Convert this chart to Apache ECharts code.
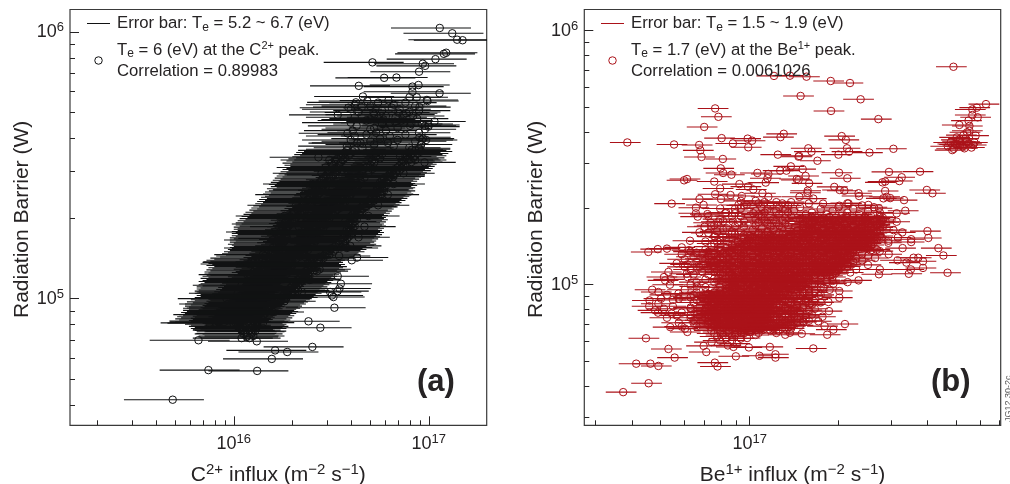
<!DOCTYPE html>
<html><head><meta charset="utf-8">
<script src="https://cdn.jsdelivr.net/npm/echarts@6/dist/echarts.min.js"></script>
<style>html,body{margin:0;padding:0;background:#fff}#c{width:1010px;height:484px}</style>
</head><body><div id="c"></div>
<script>
// All values are decades: influx = 10^(ref + x), barrier = 1e5 * 10^y.
const cInfluxRef = 16, beInfluxRef = 17;
// Asymmetric error bar half widths, in decades
const cLowDex = 0.25, cHighDex = 0.16, beLowDex = 0.059, beHighDex = 0.045;

// Panel (a): individually readable points [x, y]
const cLoose = [[1.056,1.015],[1.12,.995],[1.145,.971],[1.173,.969],[1.077,.918],[1.089,.922],[1.034,.898],[.969,.881],[.981,.873],[.711,.886],[.95,.851],[.771,.828],[.834,.829],[.641,.798],[.916,.795],[.947,.801],[.916,.776],[1.055,.77],[.662,.758],[.901,.755],[.938,.755],[.993,.741],[.626,.736],[.685,.741],[.793,.743],[.588,.716],[.656,.718],[.81,.716],[.952,.718],[.533,.689],[.716,.698],[.844,.698],[.884,.695],[.699,.672],[.768,.672],[.827,.664],[.964,.655],[.998,.651],[1.029,.664],[.904,.648],[.952,.605],[.986,.595],[.95,.564],[.978,.511],[.434,.53],[.862,.52],[.819,.458],[.75,.389],
[.533,.084],[.549,.056],[.542,.038],[.532,.028],[.494,.025],[.503,.012],[.511,.006],[.516,-.034],[.383,-.085],[.444,-.109],[.403,-.181],[.212,-.194],[.274,-.2],[.195,-.226],[-.13,-.268],[.12,-.271],[-.313,-.379],[-.181,-.156],[.118,-.16],[.067,-.144],[.109,-.122],[.041,-.115],[.05,-.119],[-.125,-.091],[-.079,-.088],[.118,-.088],[.605,.144],[.632,.154],[.426,.103],[.383,.073],[.349,.025],[.058,-.131]];
// Panel (a): bars sticking out of the edges of the mass [x, y]
const cEdge = [[.583,.62],[.633,.583],[.556,.483],[.522,.464],[.487,.439],[.453,.408],[.419,.37],[.368,.308],[.333,.27],[.273,.226],[.094,.138],[.111,.088],[.06,.025],[-.037,0],[.009,-.035],[-.008,-.053],[-.076,-.088],[.99,.745],[.998,.645],[.964,.595],[.913,.558],[.853,.533],[.819,.464],[.733,.408],[.674,.345],[.571,.289],[.571,.233],[.597,.198],
[.49,.52],[.45,.47],[.4,.43],[.36,.39],[.32,.35],[.26,.31],[.24,.28],[.21,.25],[.2,.22],[.2,.19],[.15,.165],[.08,.13],[.07,.09],[.04,.05],[.02,.02],[-.03,-.02],[-.06,-.06],[.93,.52],[.87,.47],[.82,.43],[.79,.39],[.74,.35],[.69,.31],[.67,.27],[.64,.23],[.58,.19],[.54,.16],[.44,.11],[.39,.07],[.33,.03],[.26,-.01],[.2,-.05],[.15,-.09]];
// Panel (a): densely packed rows [y, x, x]
const cRows = [[.735,.74,.88],[.727,.62,.82],[.722,.7,.93],[.71,.6,.85],[.705,.76,.95],[.7,.64,.9],[.69,.72,.87],[.685,.78,.92],[.68,.62,.83],[.675,.74,.94],[.668,.68,.86],[.66,.6,.8],[.655,.76,.91],[.648,.63,.98],[.64,.72,.84],[.635,.7,.98],[.63,.61,.78],[.622,.73,.95],[.615,.68,.88],[.61,.62,.8],[.6,.75,.97],[.595,.6,.84],[.59,.7,.93],[.584,.65,.79],[.578,.72,.96],[.572,.58,.82],[.566,.66,.9],
[.56,.62,.95],[.556,.58,.93],[.552,.61,.96],[.548,.57,.9],[.544,.6,.94],[.54,.56,.91],[.536,.59,.93],[.532,.55,.88],[.528,.57,.92],[.524,.53,.89],[.52,.56,.9],[.516,.52,.87],[.512,.55,.91],[.508,.5,.86],[.504,.54,.88],[.5,.51,.85],[.496,.54,.87],[.492,.47,.84],[.488,.52,.86],[.484,.5,.82],[.48,.53,.85],[.476,.49,.81],[.472,.52,.83],[.468,.48,.8],[.464,.51,.82],[.46,.47,.79],[.456,.5,.8],[.452,.46,.77],[.448,.49,.79],[.444,.45,.76],[.44,.48,.78],[.436,.44,.75],[.432,.47,.77],[.428,.43,.76],[.424,.46,.78],[.42,.44,.75],[.416,.47,.77],[.412,.42,.76],[.408,.45,.74],[.404,.43,.77],[.4,.41,.75],[.396,.44,.73],[.392,.4,.76],[.388,.43,.72],[.384,.41,.74],[.38,.39,.71],[.376,.42,.73],[.372,.38,.7],[.368,.41,.72],[.364,.37,.69],[.36,.4,.7],[.356,.36,.67],[.352,.39,.69],[.348,.35,.66],[.344,.38,.68],[.34,.34,.65],[.336,.37,.66],[.332,.33,.63],[.328,.35,.65],[.324,.31,.62],[.32,.34,.64],[.316,.3,.61],[.312,.33,.63],[.308,.29,.6],[.304,.32,.62],[.3,.28,.61],[.296,.31,.63],[.292,.27,.6],[.288,.3,.62],[.284,.26,.59],[.28,.29,.61],[.276,.26,.6],[.272,.28,.62],[.268,.25,.59],[.264,.27,.61],[.26,.25,.58],[.256,.27,.6],[.252,.24,.59],[.248,.26,.61],[.244,.24,.58],[.24,.27,.6],[.236,.24,.57],[.232,.26,.59],[.228,.23,.56],[.224,.25,.58],[.22,.23,.55],[.216,.26,.57],[.212,.23,.56],[.208,.25,.54],[.204,.22,.57],[.2,.24,.56],[.196,.25,.52],[.192,.23,.55],[.188,.24,.5],[.184,.22,.52],[.18,.23,.49],[.176,.2,.51],[.172,.22,.48],[.168,.19,.47],[.164,.21,.49],[.16,.16,.46],[.156,.18,.44],[.152,.13,.46],[.148,.15,.43],[.144,.11,.41],[.14,.13,.39],[.136,.09,.4],[.132,.12,.38],[.128,.14,.41],[.124,.11,.39],[.12,.15,.42],[.116,.12,.4],[.112,.14,.38],[.108,.11,.41],[.104,.13,.37],[.1,.1,.39],[.096,.12,.36],[.092,.1,.38],[.088,.13,.35],[.084,.09,.37],[.08,.12,.34],[.076,.08,.36],[.072,.11,.33],[.068,.09,.35],[.064,.07,.32],[.06,.1,.34],[.056,.08,.31],[.052,.07,.33],[.048,.09,.3],[.044,.06,.32],[.04,.08,.29],[.036,.06,.31],[.032,.07,.28],[.028,.05,.3],[.024,.07,.27],[.02,.05,.29],[.016,.08,.26],[.012,.06,.28],[.008,.08,.25],[.004,.05,.27],[0,.07,.24],[-.004,.03,.23],[-.008,.05,.21],[-.012,.01,.22],[-.016,.04,.2],[-.02,0,.21],[-.024,.03,.18],[-.028,0,.19],[-.032,.02,.17],[-.036,-.01,.18],[-.04,.02,.16],[-.044,-.01,.15],[-.048,.01,.17],[-.052,-.02,.14],[-.056,0,.16],[-.06,-.03,.13],[-.064,-.01,.15],[-.068,-.04,.12],[-.072,-.02,.14],[-.076,-.05,.11],[-.08,-.03,.13],[-.084,-.08,.1],[-.088,-.05,.12],[-.092,-.09,.09],[-.096,0,.11],[-.1,.03,.1],[-.104,.02,.12],[-.108,.05,.09],[-.112,.03,.11],[-.118,.04,.08],[-.124,.06,.1],[-.132,.05,.09],[-.14,.07,.1],[-.148,.04,.08]];
// Panel (a): centre of the solid band [y, x]
const cMidRows = [[.542,.76],[.534,.73],[.526,.75],[.518,.71],[.51,.72],[.502,.7],[.494,.68],[.486,.71],[.478,.66],[.47,.69],[.462,.65],[.454,.67],[.446,.62],[.442,.65],[.438,.6],[.434,.63],[.43,.61],[.426,.64],[.422,.59],[.418,.62],[.414,.6],[.41,.63],[.406,.58],[.402,.61],[.398,.59],[.394,.57],[.39,.6],[.386,.56],[.382,.59],[.378,.55],[.374,.58],[.37,.56],[.366,.54],[.362,.57],[.358,.53],[.354,.56],[.35,.54],[.346,.52],[.342,.55],[.338,.51],[.334,.53],[.33,.49],[.326,.52],[.322,.5],[.318,.47],[.314,.51],[.31,.48],[.306,.46],[.302,.49],[.298,.47],[.294,.44],[.29,.48],[.286,.46],[.282,.43],[.278,.47],[.274,.45],[.27,.42],[.266,.46],[.262,.44],[.258,.41],[.254,.45],[.25,.43],[.246,.4],[.242,.44],[.238,.42],[.234,.39],[.23,.43],[.226,.41],[.222,.38],[.218,.42],[.214,.4],[.21,.37],[.206,.41],[.202,.39],[.198,.36],[.194,.4],[.19,.37],[.186,.35],[.182,.38],[.178,.34],[.174,.36],[.17,.33],[.166,.35],[.162,.31],[.158,.34],[.154,.3],[.15,.32],[.146,.28],[.142,.3],[.138,.26],[.134,.29],[.13,.27],[.126,.3],[.122,.28],[.118,.26],[.114,.29],[.11,.25],[.106,.28],[.102,.26],[.098,.24],[.094,.27],[.09,.23],[.086,.25],[.082,.22],[.078,.24],[.074,.21],[.07,.23],[.066,.2],[.062,.22],[.058,.19],[.054,.21],[.05,.18],[.046,.2],[.042,.17],[.038,.19],[.034,.16],[.03,.18],[.026,.15],[.022,.17],[.018,.14],[.014,.16],[.01,.15],[.006,.13],[.002,.15],[-.002,.12],[-.006,.13],[-.01,.11],[-.014,.12],[-.018,.1],[-.022,.11],[-.026,.09],[-.03,.1],[-.034,.08],[-.038,.09],[-.042,.07],[-.046,.08],[-.05,.06],[-.054,.07],[-.058,.05],[-.062,.06],[-.066,.04],[-.07,.05],[-.074,.03],[-.078,.04],[-.082,.02],[-.086,.03],[-.09,.01]];

// Panel (b): individually readable points [x, y]
const beLoose = [[.689,.858],[.082,.822],[.136,.823],[.192,.819],[.274,.802],[.339,.794],[.172,.743],[.375,.73],[-.117,.694],[-.106,.661],[.275,.684],[.435,.652],[.799,.711],[.768,.697],[.753,.69],[.753,.668],[.771,.659],[.74,.646],[.709,.629],[.743,.625],[.743,.606],[.723,.589],[.764,.587],[.706,.57],[.734,.563],[.685,.53],[.726,.537],[.756,.55],[.711,.55],[.694,.554],[-.154,.621],[-.414,.56],[-.256,.552],[-.171,.55],[-.167,.529],[-.163,.503],[-.091,.495],[-.095,.577],[-.057,.556],[-.007,.575],[.008,.567],[-.005,.541],[.115,.594],[.104,.581],[.311,.585],[.325,.57],[.198,.537],[.329,.537],[.336,.524],[.3,.512],[.405,.52],[.486,.535],[.095,.512],[.165,.504],[.167,.507],[.209,.524],[.229,.488],[.139,.466],[.179,.455],[.124,.449],[.103,.449],[.026,.44],[-.098,.458],[-.09,.44],[-.062,.433],[.063,.436],[.06,.419],[.302,.441],[.33,.419],[.471,.444],[.576,.445],[.514,.423],[.506,.408],[.458,.406],[.449,.403],[.189,.428],[.159,.416],[.165,.412],[.054,.402],[-.222,.411],[-.212,.416],[-.12,.406],[-.035,.396],[-.006,.386],[.012,.375],[.201,.399],[.286,.385],[.304,.373],[.32,.37],[.599,.373],[.618,.36],[.458,.369],[.368,.36],[.37,.349],[.196,.37],[.195,.362],[.168,.346],[.215,.339],[-.117,.356],[-.065,.353],[-.1,.379],[-.027,.349],[.043,.36],[.063,.346],[-.17,.337],[-.264,.319],[-.156,.314],[-.182,.303],[-.097,.337],[.452,.34],[.463,.346],[.475,.341],[.522,.333],[.526,.291],[.497,.281],[.248,.319],[.303,.311],[.334,.32],[.401,.314],[.437,.301],[-.182,.281],[-.143,.278],[-.176,.268],[-.038,.314],[-.01,.314],[-.106,.248],[-.083,.281],[-.05,.281],[.012,.281],[.601,.211],[.516,.206],[.486,.215],[.604,.184],[.546,.179],[.501,.186],[.469,.173],[-.132,.244],[-.057,.248],[-.153,.228],[-.078,.222],[.446,.248],[.497,.248],[-.17,.206],[-.117,.189],[-.061,.199],[-.202,.173],[.407,.186],[.446,.186],
[-.343,.129],[-.311,.14],[-.28,.142],[-.23,.147],[-.205,.136],[.469,.165],[.517,.144],[.546,.168],[.638,.144],[.655,.115],[.554,.106],[.57,.106],[.586,.092],[.53,.087],[.586,.066],[.545,.06],[.538,.043],[.669,.047],[.437,.041],[.424,.105],[.409,.135],[-.247,.084],[-.275,.05],[-.213,.043],[-.286,.017],[-.267,.021],[-.179,-.007],[-.309,-.029],[-.241,-.035],[-.339,-.062],[-.309,-.075],[-.32,-.101],[-.264,-.114],[-.247,-.121],[-.269,-.167],[-.219,-.173],[-.211,-.186],[-.351,-.211],[-.275,-.253],[-.254,-.287],[-.384,-.311],[-.336,-.311],[-.309,-.32],[-.342,-.388],[-.428,-.423],[-.156,-.241],[-.147,-.265],[-.118,-.307],[-.109,-.322],[-.047,-.282],[.033,-.28],[.087,-.274],[.087,-.287],[.068,-.245],[-.003,-.247],[-.074,-.239],[-.055,-.245],[-.044,-.232],[-.009,-.21],[-.129,-.226],[.215,-.251],[.322,-.155],[.283,-.177],[.262,-.197],[.253,-.163],[.232,-.144],[.246,-.126],[.268,-.104],[.266,-.068],[.303,-.025],[.303,-.051],[.234,-.045],[.219,-.031],[.185,-.031],[.176,-.007],[.26,.01],[.283,.004],[.331,.01],[.368,.017],[.204,-.075],[.182,-.147],[.176,-.193],[.136,-.189],[.12,-.197],[.097,-.18],[.08,-.18],[.046,-.176],[.024,-.176],[.005,-.184],[-.018,-.18],[.103,-.144],[.144,-.163],
[.67,.545],[.7,.552],[.72,.545],[.74,.555],[.68,.56],[.71,.565],[.75,.54],[.73,.575],[.69,.535],[.76,.56],[.7,.58],[.735,.6]];
// Panel (b): densely packed rows [y, x, x, ...]
const beRows = [[.325,.05,.09,.14],[.32,.03,.11,.2,.33],[.312,-.02,.07,.13,.38],[.305,.04,.1,.17,.3,.42],[.298,-.05,.06,.12,.24,.35],[.29,.02,.09,.15,.28,.4],[.284,-.08,.05,.13,.21,.33,.44],[.277,.03,.1,.19,.26,.37],[.27,-.03,.07,.14,.22,.31,.41],[.264,.04,.12,.2,.27,.35,.45],[.258,-.1,.02,.08,.17,.24,.31,.39],[.252,.05,.11,.19,.26,.34,.42],[.246,-.04,.03,.09,.21,.29,.37,.46],[.24,.06,.12,.18,.25,.32,.4],[.234,-.12,.02,.1,.2,.27,.35,.43],[.228,-.02,.07,.13,.22,.3,.38,.45],[.222,.04,.11,.18,.25,.33,.41],[.216,-.09,.01,.08,.2,.28,.36,.44],[.21,-.03,.06,.14,.23,.3,.38],[.204,-.14,.03,.1,.18,.26,.34,.42],
[.198,-.05,.03,.09,.19,.27,.34,.41],[.192,0,.07,.14,.22,.3,.38,.44],[.186,-.08,.04,.11,.18,.25,.33,.4],[.18,-.02,.06,.13,.2,.28,.36,.43],[.174,-.1,.02,.09,.16,.24,.31,.39],[.168,-.04,.05,.12,.21,.29,.35,.42],[.162,-.12,.01,.08,.15,.23,.32,.4],[.156,-.06,.04,.11,.19,.26,.34,.41],[.15,-.13,-.01,.07,.14,.22,.3,.37],[.144,-.08,.03,.1,.18,.27,.33,.4],
[.138,-.15,-.04,.05,.12,.2,.28,.35,.43],[.132,-.1,0,.08,.16,.24,.31,.44],[.126,-.18,-.06,.03,.1,.19,.27,.34],[.12,-.12,-.02,.06,.14,.22,.3,.38,.47],[.114,-.14,-.05,.04,.11,.18,.26,.33,.4],[.108,-.1,.01,.09,.17,.25,.32],[.102,-.16,-.03,.06,.13,.21,.29,.36],[.096,-.11,-.01,.07,.15,.23,.3,.38,.5],[.09,-.13,-.04,.04,.12,.2,.28,.35],[.084,-.09,.02,.1,.17,.25,.31],[.078,-.14,-.03,.05,.13,.21,.29,.4],[.072,-.1,0,.08,.16,.24,.33],[.066,-.12,-.02,.06,.14,.22,.3],[.06,-.08,.03,.11,.19,.26,.36,.44],[.054,-.11,-.01,.07,.15,.23,.29],[.048,-.09,.02,.09,.17,.25,.34],[.042,-.1,-.02,.06,.14,.21,.28],
[.036,-.07,.01,.08,.15,.24],[.03,-.05,.03,.1,.19,.28],[.024,-.08,0,.07,.13,.22],[.018,-.06,.02,.09,.17,.26],[.012,-.07,-.01,.06,.12,.2],[.006,-.05,.03,.1,.16,.24],[0,-.08,0,.07,.14,.21],[-.006,-.06,.02,.09,.13,.19],[-.012,-.07,.01,.08,.15,.25],[-.018,-.05,.03,.1,.17],[-.024,-.08,0,.06,.12,.22],
[-.03,-.12,-.05,.02,.09,.18],[-.036,-.14,-.07,0,.06,.13],[-.042,-.11,-.04,.03,.1,.2],[-.048,-.13,-.06,.01,.07,.15],[-.054,-.12,-.05,.02,.09,.17],[-.06,-.14,-.07,0,.05,.12],[-.066,-.11,-.04,.03,.08,.19],[-.072,-.13,-.06,.01,.07,.14],[-.078,-.12,-.05,.02,.09,.21],[-.084,-.14,-.07,0,.05,.16],[-.09,-.11,-.04,.03,.08,.13],
[-.096,-.15,-.08,-.02,.04,.12],[-.102,-.13,-.06,0,.06,.17],[-.108,-.15,-.09,-.03,.03,.1],[-.114,-.12,-.06,.01,.07,.15],[-.12,-.14,-.08,-.02,.04,.19],[-.126,-.13,-.07,0,.06,.11],[-.132,-.15,-.09,-.03,.03,.16],[-.138,-.12,-.06,.01,.05,.13],[-.144,-.14,-.08,-.02,.04,.18],[-.15,-.13,-.07,0,.03,.09],[-.156,-.14,-.08,-.03,.02,.14],[-.162,-.12,-.06,0,.05],[-.168,-.13,-.07,-.02,.03,.11],
[-.174,-.11,-.06,-.01],[-.18,-.13,-.07,-.03,.04],[-.186,-.1,-.05,0],[-.192,-.12,-.07,-.02],[-.198,-.09,-.05,.02],[-.204,-.11,-.06],[-.212,-.08,-.03],[-.22,-.1,-.06],
[.03,-.29,-.21],[0,-.27,-.2],[-.02,-.33,-.22],[-.04,-.28,-.19],[-.055,-.3,-.24],[-.085,-.34,-.26],[-.095,-.29,-.2],[-.11,-.31,-.23],[-.13,-.28,-.2],[-.06,-.26,-.18],[.07,-.22,-.18],[-.15,-.24,-.19],[-.165,-.23,-.18]];
// Panel (b): points filling the solid red core
const beCoreRows = [[.267,.21,.27,.33,.39,.44],[.261,.19,.25,.31,.37,.43],[.255,.22,.28,.34,.4,.45],[.249,.18,.24,.3,.36,.42],[.243,.21,.27,.33,.39,.44],[.237,.2,.26,.32,.38,.43],[.231,.18,.23,.29,.35,.41],[.225,.21,.27,.33,.38,.44],[.219,.19,.25,.31,.37,.42],[.213,.16,.22,.28,.34,.4],[.207,.2,.26,.32,.37,.43],[.201,.18,.24,.3,.36,.41],
[.195,-.02,.04,.11,.17,.23,.29,.35,.41],[.189,.01,.08,.13,.2,.26,.32,.37,.42],[.183,-.03,.05,.1,.16,.24,.3,.36,.4],[.177,0,.07,.12,.19,.25,.33,.38,.41],[.171,-.04,.03,.11,.17,.22,.28,.34,.39],[.165,-.01,.06,.13,.18,.26,.31,.37,.4],[.159,-.05,.02,.09,.16,.23,.29,.35,.38],[.153,-.02,.05,.12,.2,.25,.31,.36,.39],[.147,-.06,.01,.08,.15,.21,.28,.34,.38],[.141,-.03,.04,.11,.17,.24,.29,.35,.37],
[.135,-.1,-.02,.07,.14,.22,.29,.33],[.129,-.07,.03,.1,.18,.25,.3,.35],[.123,-.09,-.03,.04,.12,.2,.27,.32],[.117,-.06,.01,.08,.16,.23,.29,.34],[.111,-.1,-.02,.06,.13,.2,.27,.31],[.105,-.07,.03,.11,.15,.22,.3,.33],[.099,-.09,-.03,.05,.12,.19,.26,.32],[.093,-.06,.01,.09,.14,.22,.28,.31],[.087,-.1,-.02,.06,.13,.18,.26,.3],[.081,-.07,.03,.08,.15,.22,.27,.33],[.075,-.09,-.03,.04,.11,.19,.25,.3],[.069,-.06,.01,.09,.13,.21,.27,.31],[.063,-.08,-.02,.05,.12,.18,.24,.28],[.057,-.05,.04,.08,.15,.22,.27,.3],[.051,-.07,-.01,.06,.11,.19,.23,.27],[.045,-.04,.02,.08,.14,.2,.24,.29],[.039,-.06,0,.05,.12,.17,.22,.26],
[.033,-.04,.02,.07,.12,.16],[.027,-.06,0,.05,.09,.14],[.021,-.03,.03,.08,.12,.17],[.015,-.05,.01,.05,.1,.15],[.009,-.03,.03,.07,.11,.15],[.003,-.06,0,.04,.09,.13],[-.003,-.03,.02,.06,.11,.16],[-.009,-.05,.01,.05,.1,.13],[-.015,-.03,.03,.07,.11,.14],[-.021,-.06,0,.04,.08,.12],[-.027,-.1,-.03,.02,.06,.1],
[-.033,-.12,-.08,-.03,.01,.05],[-.039,-.1,-.06,-.01,.04,.08],[-.045,-.13,-.08,-.03,.02,.06],[-.051,-.1,-.06,-.02,.03,.05],[-.057,-.12,-.08,-.03,.01,.06],[-.063,-.11,-.06,-.01,.03,.07],[-.069,-.13,-.08,-.03,.01,.05],[-.075,-.1,-.06,-.02,.03,.06],[-.081,-.12,-.07,-.03,.02,.04],[-.087,-.1,-.06,-.01,.03,.06],[-.093,-.13,-.08,-.03,.01,.05],
[-.099,-.12,-.07,-.03,.01,.03],[-.105,-.14,-.09,-.04,0,.04],[-.111,-.11,-.07,-.02,.02,.05],[-.117,-.14,-.09,-.04,0,.03],[-.123,-.12,-.07,-.03,.02,.05],[-.129,-.14,-.09,-.04,0,.03],[-.135,-.11,-.07,-.02,.02,.04],[-.141,-.13,-.09,-.04,0,.03],[-.147,-.11,-.06,-.02,.01,.04],[-.153,-.12,-.08,-.04,0,.02],[-.159,-.1,-.06,-.02,.01,.03],[-.165,-.12,-.08,-.04,0,.02],[-.171,-.09,-.05,-.02,.01]];
// Panel (b): the half-filled zone around the core
const beFillRows = [[-.03,.12,.2],[-.04,.09,.17,.24],[-.05,.1,.18],[-.058,.08,.14,.22],[-.065,.11,.19],[-.07,.13,.24],[-.08,.1,.16,.2],[-.088,.12,.18],[-.095,.07,.15,.22],[-.1,.09,.13,.2],[-.106,.06,.14],[-.112,.1,.17],[-.118,.07,.12,.21],[-.125,.08,.15],[-.13,.06,.11,.19],[-.137,.09,.14],[-.142,.07,.12,.2],[-.15,.05,.11,.16],[-.155,.08,.13],[-.16,.06,.1,.17],[-.166,.05,.09],[-.172,.03,.08,.14],[-.18,.02,.07],[-.19,-.03,.03,.09],[.035,.13,.2,.27],[.025,.16,.24],[.015,.12,.19,.28],[.005,.14,.22],[-.01,.17,.24],[-.02,.14,.2,.27],[.13,-.2,-.14],[.12,-.23,-.16],[.11,-.19,-.13],[.1,-.22,-.15],[.09,-.18,-.12],[.08,-.21,-.15],[.07,-.17,-.12],[.06,-.2,-.14],[.05,-.16,-.12],[.04,-.19,-.14],[.02,-.15,-.11],[.01,-.18,-.12],[-.01,-.15,-.1],[-.03,-.18,-.15],[-.05,-.2,-.16],[-.07,-.19,-.15],[-.09,-.2,-.17],[-.12,-.2,-.17],[-.14,-.19,-.16],[.33,-.03,.02],[.3,-.1,-.03],[.27,-.14,-.06],[.25,-.09,-.02],[.23,-.13,-.05],[.21,-.11,-.06],[.19,-.12,-.09],[.17,-.15,-.11]];

// Axis ranges and ticks
const cXRange = [1.447e15, 1.98e17], cYRange = [3.35e4, 1.214e6];
const beXRange = [2.757e16, 7.06e17], beYRange = [2.795e4, 1.212e6];
const cXMajor = [1e16, 1e17], beXMajor = [1e17], yMajor = [1e5, 1e6];
const cXMinor = [2e15,3e15,4e15,5e15,6e15,7e15,8e15,9e15,2e16,3e16,4e16,5e16,6e16,7e16,8e16,9e16];
const beXMinor = [3e16,4e16,5e16,6e16,7e16,8e16,9e16,2e17,3e17,4e17,5e17,6e17,7e17];
const cYMinor = [4e4,5e4,6e4,7e4,8e4,9e4,2e5,3e5,4e5,5e5,6e5,7e5,8e5,9e5];
const beYMinor = [3e4,4e4,5e4,6e4,7e4,8e4,9e4,2e5,3e5,4e5,5e5,6e5,7e5,8e5,9e5];

const names = {
  cBar: 'Error bar C', cDot: 'Te C', beBar: 'Error bar Be', beDot: 'Te Be'
};
const legendText = {
  [names.cBar]: '{t|Error bar: T}{sub|e}{t| = 5.2 ~ 6.7 (eV)}',
  [names.cDot]: '{t|T}{sub|e}{t| = 6 (eV) at the C}{sup|2+}{t| peak.}\n{t|Correlation = 0.89983}',
  [names.beBar]: '{t|Error bar: T}{sub|e}{t| = 1.5 ~ 1.9 (eV)}',
  [names.beDot]: '{t|T}{sub|e}{t| = 1.7 (eV) at the Be}{sup|1+}{t| peak.}\n{t|Correlation = 0.0061026}'
};

const INK = '#262324', BLACK = '#111213', RED = '#ab1219';
const FONT = '"Liberation Sans", Arial, sans-serif';

function points(looseLists, rowLists, ref) {
  const out = [];
  looseLists.forEach(l => l.forEach(p => out.push([Math.pow(10, ref + p[0]), 1e5 * Math.pow(10, p[1])])));
  rowLists.forEach(rows => rows.forEach(r => r.slice(1).forEach(x => out.push([Math.pow(10, ref + x), 1e5 * Math.pow(10, r[0])]))));
  return out;
}
function bars(pts, lo, hi) {
  return pts.map(p => [p[0] * Math.pow(10, -lo), p[0] * Math.pow(10, hi), p[1]]);
}
const cPts = points([cLoose, cEdge], [cRows, cMidRows], cInfluxRef);
const bePts = points([beLoose], [beRows, beCoreRows, beFillRows], beInfluxRef);

const labelRich = { b: {fontSize: 18, color: INK, fontFamily: FONT}, s: {fontSize: 13, color: INK, fontFamily: FONT, padding: [0,0,9,0]} };
const powerLabel = v => '{b|10}{s|' + Math.round(Math.log10(v)) + '}';
const nameRich = { t: {fontSize: 21, color: INK, fontFamily: FONT}, s: {fontSize: 15, color: INK, fontFamily: FONT, padding: [0,0,10,0]} };
const legendRich = {
  t: {fontSize: 16.7, color: INK, fontFamily: FONT, lineHeight: 21},
  sub: {fontSize: 12, color: INK, fontFamily: FONT, padding: [8,0,0,0]},
  sup: {fontSize: 11, color: INK, fontFamily: FONT, padding: [0,0,8,0]}
};

function xAxes(grid, range, major, minor, title) {
  const base = {type: 'log', logBase: 10, min: range[0], max: range[1], gridIndex: grid, position: 'bottom', splitLine: {show: false}, minorSplitLine: {show: false}, axisLine: {show: false}};
  return [
    Object.assign({}, base, {
      axisTick: {show: true, inside: true, length: 9, lineStyle: {color: INK, width: 1}, customValues: major},
      axisLabel: {show: true, customValues: major, formatter: powerLabel, rich: labelRich, margin: 8},
      name: title, nameLocation: 'middle', nameGap: 37, nameTextStyle: {rich: nameRich, fontFamily: FONT}
    }),
    Object.assign({}, base, {
      axisTick: {show: true, inside: true, length: 5, lineStyle: {color: INK, width: 1}, customValues: minor},
      axisLabel: {show: false}
    })
  ];
}
function yAxes(grid, range, major, minor, title) {
  const base = {type: 'log', logBase: 10, min: range[0], max: range[1], gridIndex: grid, position: 'left', splitLine: {show: false}, minorSplitLine: {show: false}, axisLine: {show: false}};
  return [
    Object.assign({}, base, {
      axisTick: {show: true, inside: true, length: 9, lineStyle: {color: INK, width: 1}, customValues: major},
      axisLabel: {show: true, customValues: major, formatter: powerLabel, rich: labelRich, margin: 6},
      name: title, nameLocation: 'middle', nameRotate: 90, nameGap: 37, nameTextStyle: {rich: nameRich, fontFamily: FONT, padding: [0,4,0,0]}
    }),
    Object.assign({}, base, {
      axisTick: {show: true, inside: true, length: 5, lineStyle: {color: INK, width: 1}, customValues: minor},
      axisLabel: {show: false}
    })
  ];
}
function barSeries(name, data, xi, yi, color) {
  return {
    name, type: 'custom', xAxisIndex: xi, yAxisIndex: yi, clip: true, silent: true,
    encode: {x: [0, 1], y: 2},
    renderItem: (params, api) => {
      const a = api.coord([api.value(0), api.value(2)]);
      const b = api.coord([api.value(1), api.value(2)]);
      return {type: 'line', shape: {x1: a[0], y1: a[1], x2: b[0], y2: b[1]}, style: {stroke: color, lineWidth: 1.1, fill: null}};
    },
    data
  };
}
function dotSeries(name, data, xi, yi, color) {
  return {
    name, type: 'scatter', xAxisIndex: xi, yAxisIndex: yi, symbol: 'circle', symbolSize: 7.5, clip: true, silent: true,
    itemStyle: {color: 'rgba(0,0,0,0)', borderColor: color, borderWidth: 1, opacity: 1},
    data
  };
}
function legendFor(left, barName, dotName, color) {
  const LINE = 'path://M0 0H100V4.4H0Z';
  return {
    left, top: 15, orient: 'vertical', itemWidth: 23, itemHeight: 7.5, itemGap: 7, padding: 0,
    selectedMode: false, z: 20,
    data: [
      {name: barName, icon: LINE, itemStyle: {color, borderWidth: 0}},
      {name: dotName, icon: 'circle', itemStyle: {color: 'rgba(0,0,0,0)', borderColor: color, borderWidth: 1}}
    ],
    formatter: n => legendText[n],
    textStyle: {rich: legendRich, fontFamily: FONT, padding: [0,0,0,2]}
  };
}

const option = {
  animation: false,
  backgroundColor: '#fff',
  textStyle: {fontFamily: FONT},
  grid: [
    {left: 70, top: 9.5, width: 416.7, height: 415.8, show: true, outerBoundsMode: 'none', borderColor: '#3a3a3a', borderWidth: 1.2, backgroundColor: 'transparent'},
    {left: 584.3, top: 9.5, width: 416.4, height: 415.8, show: true, outerBoundsMode: 'none', borderColor: '#3a3a3a', borderWidth: 1.2, backgroundColor: 'transparent'}
  ],
  xAxis: [
    ...xAxes(0, cXRange, cXMajor, cXMinor, '{t|C}{s|2+}{t| influx (m}{s|\u22122}{t| s}{s|\u22121}{t|)}'),
    ...xAxes(1, beXRange, beXMajor, beXMinor, '{t|Be}{s|1+}{t| influx (m}{s|\u22122}{t| s}{s|\u22121}{t|)}')
  ],
  yAxis: [
    ...yAxes(0, cYRange, yMajor, cYMinor, '{t|Radiation Barrier (W)}'),
    ...yAxes(1, beYRange, yMajor, beYMinor, '{t|Radiation Barrier (W)}')
  ],
  legend: [legendFor(87, names.cBar, names.cDot, BLACK), legendFor(601, names.beBar, names.beDot, RED)],
  series: [
    barSeries(names.cBar, bars(cPts, cLowDex, cHighDex), 0, 0, BLACK),
    dotSeries(names.cDot, cPts, 0, 0, BLACK),
    barSeries(names.beBar, bars(bePts, beLowDex, beHighDex), 2, 2, RED),
    dotSeries(names.beDot, bePts, 2, 2, RED)
  ],
  graphic: [
    {type: 'text', left: 417, top: 367, z: 30, style: {text: '(a)', font: 'bold 31px "Liberation Sans", Arial, sans-serif', fill: INK}},
    {type: 'text', left: 931, top: 367, z: 30, style: {text: '(b)', font: 'bold 31px "Liberation Sans", Arial, sans-serif', fill: INK}},
    {type: 'text', x: 1004, y: 422, rotation: Math.PI / 2, z: 30, style: {text: 'JG12.30-2c', font: '9px "Liberation Sans", Arial, sans-serif', fill: '#555'}}
  ]
};
const chart = echarts.init(document.getElementById('c'), null, {renderer: 'canvas'});
chart.setOption(option);
</script></body></html>
